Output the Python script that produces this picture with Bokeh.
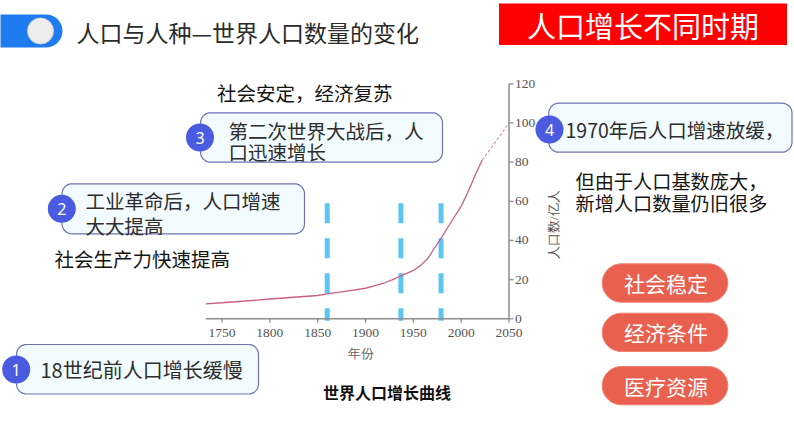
import numpy as np
from bokeh.plotting import figure
from bokeh.models import Range1d
from bokeh.core.properties import value
from bokeh.embed import file_html
from bokeh.resources import INLINE

# ---------------- data ----------------
years = [1733, 1750, 1775, 1800, 1825, 1850, 1860, 1875, 1900, 1910, 1920, 1930, 1937,
         1945, 1950, 1958, 1965, 1970, 1980, 1990, 2000, 2005, 2010, 2015, 2022]
population = [7.6, 8.2, 9.1, 10.1, 11.0, 11.9, 12.7, 13.8, 15.6, 16.9, 18.4, 20.3, 22.0,
              23.6, 24.7, 27.4, 30.8, 34.5, 42.0, 49.8, 57.5, 62.5, 68.0, 73.8, 81.0]
proj_years = [2022, 2036, 2050]
proj_population = [81.0, 90.5, 100.0]
period_years = [1860, 1937, 1979]
x_ticks = [1750, 1800, 1850, 1900, 1950, 2000, 2050]
y_ticks = [0, 20, 40, 60, 80, 100, 120]
x_title = "年份"
y_title = "人口数/亿人"
chart_title = "世界人口增长曲线"

page_title = "人口与人种—世界人口数量的变化"
banner = "人口增长不同时期"
stage_numbers = ["1", "2", "3", "4"]
stage_lines = [["18世纪前人口增长缓慢"],
               ["工业革命后，人口增速", "大大提高"],
               ["第二次世界大战后，人", "口迅速增长"],
               ["1970年后人口增速放缓，"]]
notes = ["社会安定，经济复苏", "社会生产力快速提高"]
note4 = ["但由于人口基数庞大，", "新增人口数量仍旧很多"]
factors = ["社会稳定", "经济条件", "医疗资源"]

# ---------------- layout ----------------
W, H = 794, 447
FONT = value("Noto Sans CJK SC")
SERIF = value("Liberation Serif")

p = figure(width=W, height=H, x_range=Range1d(0, W), y_range=Range1d(H, 0),
           output_backend="svg", toolbar_location=None, min_border=0,
           x_axis_location=None, y_axis_location=None, title_location=None,
           outline_line_color=None, background_fill_color="white",
           border_fill_color="white")
p.grid.visible = False

# chart scales mapped onto page pixels
X0_PX, X1_PX = 221.5, 508.5      # pixel x of 1750 and 2050
Y0_PX, Y1_PX = 318.3, 83.3       # pixel y of 0 and 120
kx = (X1_PX - X0_PX) / (2050 - 1750)
ky = (Y0_PX - Y1_PX) / (120 - 0)
p.extra_x_ranges = {"yr": Range1d(1750 - X0_PX / kx, 1750 + (W - X0_PX) / kx)}
p.extra_y_ranges = {"pop": Range1d(-(H - Y0_PX) / ky, Y0_PX / ky)}
C = dict(x_range_name="yr", y_range_name="pop")


def rrect(x0, y0, x1, y1, r, n=10):
    xs, ys = [], []
    for cx, cy, a0 in [(x1 - r, y0 + r, -90), (x1 - r, y1 - r, 0),
                       (x0 + r, y1 - r, 90), (x0 + r, y0 + r, 180)]:
        for a in np.linspace(a0, a0 + 90, n):
            xs.append(cx + r * np.cos(np.radians(a)))
            ys.append(cy + r * np.sin(np.radians(a)))
    return xs, ys


# ---- header ----
tx, ty = rrect(-20, 14, 62, 47, 16.5)
p.patch(tx, ty, fill_color="#1F7CF0", line_color=None)
p.circle([40], [30.5], radius=13, fill_color="#EDEDED", line_color="#CFCFCF", line_width=1)
p.text([76], [31], text=[page_title], text_font=FONT, text_font_size="23px",
       text_color="#2B2B2B", text_baseline="middle", text_align="left")

p.quad(left=[498.5], right=[786.5], top=[3], bottom=[44.5], fill_color="#FE0000", line_color=None)
p.text([642.5], [24], text=[banner], text_font=FONT, text_font_size="29px",
       text_color="white", text_baseline="middle", text_align="center")

# ---- chart ----
p.segment(x0=period_years, y0=[59] * 3, x1=period_years, y1=[-1] * 3,
          line_color="#5BC6F1", line_width=5, line_dash="20 15", **C)

p.line(years, population, line_color="#CC5F84", line_width=1.3, **C)
p.line(proj_years, proj_population, line_color="#D98EA5", line_width=1.1, line_dash="3 2", **C)

axis_col = "#8C8C8C"
p.segment(x0=[1733], y0=[0], x1=[2050], y1=[0], line_color=axis_col, line_width=1.5, **C)
p.segment(x0=[2050], y0=[0], x1=[2050], y1=[120], line_color=axis_col, line_width=1.5, **C)
p.segment(x0=x_ticks, y0=[0] * len(x_ticks), x1=x_ticks, y1=[-4 / ky] * len(x_ticks),
          line_color=axis_col, line_width=1.2, **C)
p.segment(x0=[2050] * len(y_ticks), y0=y_ticks, x1=[2050 + 4.5 / kx] * len(y_ticks), y1=y_ticks,
          line_color=axis_col, line_width=1.2, **C)
p.text(x_ticks, [0] * len(x_ticks), text=[str(t) for t in x_ticks], y_offset=14.5,
       text_font=SERIF, text_font_size="13.5px", text_color="#555555",
       text_align="center", text_baseline="middle", **C)
p.text([2050] * len(y_ticks), y_ticks, text=[str(t) for t in y_ticks], x_offset=6,
       text_font=SERIF, text_font_size="13.5px", text_color="#555555",
       text_align="left", text_baseline="middle", **C)
p.text([2050 + 44 / kx], [48], text=[y_title], angle=np.pi / 2,
       text_font=SERIF, text_font_size="13px", text_color="#555555",
       text_align="center", text_baseline="middle", **C)
p.text([1895], [0], text=[x_title], y_offset=35,
       text_font=SERIF, text_font_size="13px", text_color="#666666",
       text_align="center", text_baseline="middle", **C)
p.text([1922.5], [0], text=[chart_title], y_offset=73.5,
       text_font=FONT, text_font_size="16px", text_font_style="bold", text_color="#111111",
       text_align="center", text_baseline="middle", **C)

# ---- stage boxes ----
boxes = [(16, 344, 258, 393.5), (61.5, 183.3, 304, 233.3),
         (200, 112.3, 442, 161.7), (548.3, 102.7, 791.5, 151.7)]
bx, by = [], []
for b in boxes:
    xs, ys = rrect(*b, 10)
    bx.append(xs)
    by.append(ys)
p.patches(bx, by, fill_color="#F2FBFD", line_color="#6F72B2", line_width=1.2)

circ = [(15.7, 369), (61.3, 208.3), (199.5, 137), (549, 129)]
p.circle([c[0] for c in circ], [c[1] for c in circ], radius=14,
         fill_color="#4A5BDF", line_color=None)
p.text([c[0] for c in circ], [c[1] + 0.5 for c in circ], text=stage_numbers,
       text_font=value("Noto Sans"), text_font_size="16px", text_color="white",
       text_align="center", text_baseline="middle")

line_pos = [[(40, 369)], [(85, 200), (85, 224.5)], [(228, 130), (228, 151)], [(565, 128.5)]]
for lines, pos in zip(stage_lines, line_pos):
    for t, (x, y) in zip(lines, pos):
        p.text([x], [y], text=[t], text_font=FONT, text_font_size="20px" if x == 40 else "19.5px",
               text_color="#2E2E2E", text_align="left", text_baseline="middle")

p.text([216.5], [91.5], text=[notes[0]], text_font=FONT, text_font_size="19.5px",
       text_color="#151515", text_align="left", text_baseline="middle")
p.text([54], [258.3], text=[notes[1]], text_font=FONT, text_font_size="19.5px",
       text_color="#151515", text_align="left", text_baseline="middle")
p.text([575], [180], text=[note4[0]], text_font=FONT, text_font_size="19.2px",
       text_color="#151515", text_align="left", text_baseline="middle")
p.text([575], [202.7], text=[note4[1]], text_font=FONT, text_font_size="19.2px",
       text_color="#151515", text_align="left", text_baseline="middle")

# ---- factor pills ----
pills = [(601.7, 263.3, 727.3, 301.7), (601.7, 312.7, 727.3, 351), (601.7, 366, 727.3, 404.3)]
px_, py_ = [], []
for b in pills:
    xs, ys = rrect(*b, (b[3] - b[1]) / 2)
    px_.append(xs)
    py_.append(ys)
p.patches(px_, py_, fill_color="#E9604E", line_color="#F08070", line_width=1)
p.text([665.5] * 3, [(b[1] + b[3]) / 2 for b in pills], text=factors, text_font=FONT,
       text_font_size="21px", text_color="white", text_align="center", text_baseline="middle")

open("out.html", "w").write(file_html(p, INLINE))
